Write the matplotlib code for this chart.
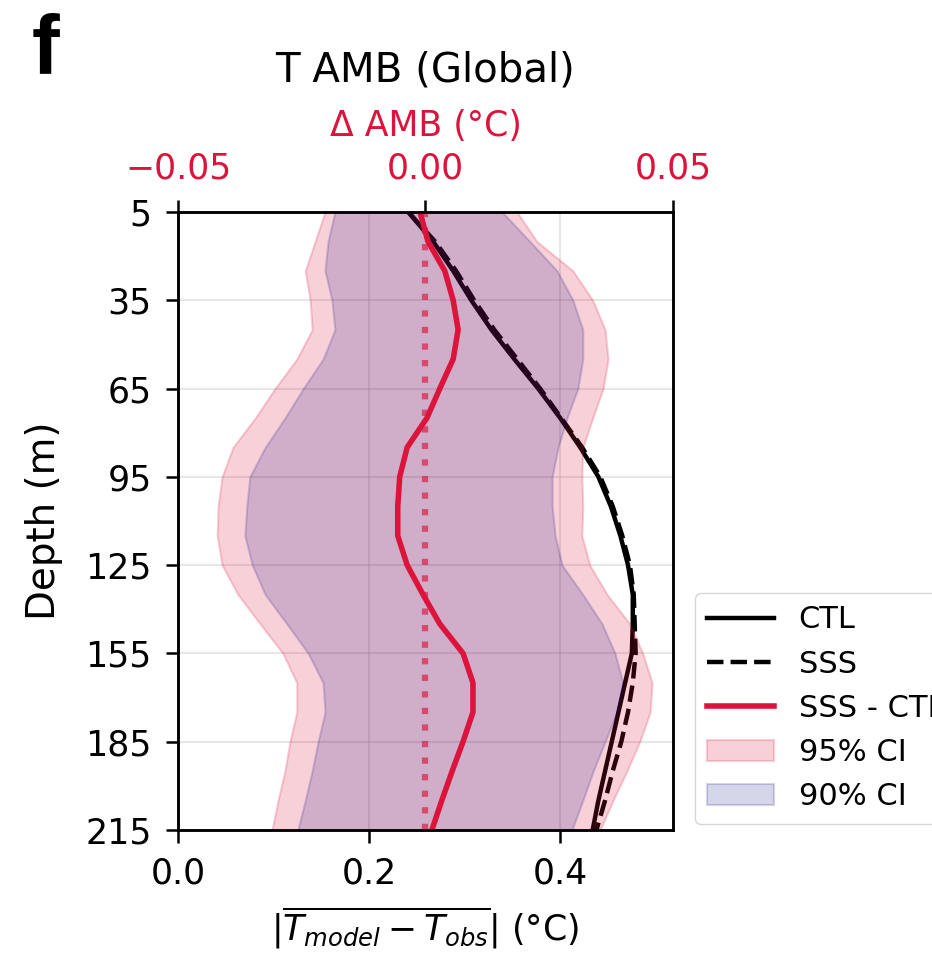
import matplotlib
matplotlib.use("Agg")
import matplotlib.pyplot as plt
from matplotlib.lines import Line2D
from matplotlib.patches import Patch

# ---- data ----
depth = [5, 15, 25, 35, 45, 55, 65, 75, 85, 95, 105, 115, 125, 135, 145, 155, 165, 175, 185, 195, 205, 215]

ctl = [0.241, 0.267, 0.288, 0.307, 0.328, 0.352, 0.377, 0.400, 0.421, 0.440, 0.453,
       0.463, 0.471, 0.476, 0.476, 0.475, 0.468, 0.461, 0.454, 0.447, 0.440, 0.434]
sss = [0.241, 0.269, 0.291, 0.310, 0.331, 0.355, 0.379, 0.401, 0.423, 0.442, 0.455,
       0.465, 0.473, 0.477, 0.478, 0.479, 0.476, 0.471, 0.464, 0.455, 0.447, 0.438]

diff = [-0.0011, 0.0005, 0.0039, 0.0056, 0.0066, 0.0056, 0.0029, 0.0003, -0.0037, -0.0052, -0.0056,
        -0.0056, -0.0037, -0.0005, 0.0029, 0.0076, 0.0096, 0.0096, 0.0076, 0.0054, 0.0033, 0.0013]

ci95_lo = [-0.0203, -0.0223, -0.0243, -0.0233, -0.0229, -0.0260, -0.0304, -0.0344, -0.0389, -0.0411, -0.0419,
           -0.0421, -0.0411, -0.0379, -0.0334, -0.0288, -0.0260, -0.0260, -0.0274, -0.0284, -0.0298, -0.0310]
ci95_hi = [0.0185, 0.0225, 0.0298, 0.0338, 0.0363, 0.0369, 0.0359, 0.0338, 0.0318, 0.0316, 0.0318,
           0.0316, 0.0332, 0.0367, 0.0413, 0.0439, 0.0458, 0.0454, 0.0433, 0.0407, 0.0379, 0.0353]
ci90_lo = [-0.0183, -0.0197, -0.0203, -0.0189, -0.0183, -0.0207, -0.0247, -0.0284, -0.0324, -0.0355, -0.0361,
           -0.0365, -0.0350, -0.0324, -0.0280, -0.0237, -0.0207, -0.0203, -0.0217, -0.0229, -0.0243, -0.0258]
ci90_hi = [0.0155, 0.0211, 0.0266, 0.0298, 0.0318, 0.0318, 0.0308, 0.0286, 0.0268, 0.0256, 0.0256,
           0.0262, 0.0276, 0.0318, 0.0357, 0.0383, 0.0399, 0.0387, 0.0363, 0.0339, 0.0318, 0.0296]

yticks = [5, 35, 65, 95, 125, 155, 185, 215]
xticks_bottom = [0.0, 0.2, 0.4]
xticks_top = [-0.05, 0.0, 0.05]

# ---- figure ----
fig = plt.figure(figsize=(9.32, 9.55), dpi=100)
ax = fig.add_axes([0.191, 0.131, 0.531, 0.647])

ax.plot(ctl, depth, color="black", lw=3.2, ls="-")
ax.plot(sss, depth, color="black", lw=3.2, ls="--")
ax.set_xlim(0, 0.518)
ax.set_ylim(215, 5)
ax.set_yticks(yticks)
ax.set_xticks(xticks_bottom)
ax.set_xticklabels(["0.0", "0.2", "0.4"])
ax.grid(True, color="#b0b0b0", alpha=0.3, lw=1.5)
ax.tick_params(labelsize=25, length=9, width=1.8, pad=10)
ax.set_ylabel("Depth (m)", fontsize=28, labelpad=16)
ax.set_xlabel(r"$|\overline{T_{model} - T_{obs}}|$ (°C)", fontsize=25, labelpad=10)
for s in ax.spines.values():
    s.set_linewidth(1.8)

ax2 = ax.twiny()
ax2.fill_betweenx(depth, ci95_lo, ci95_hi, color="crimson", alpha=0.2, lw=1.5)
ax2.fill_betweenx(depth, ci90_lo, ci90_hi, color="navy", alpha=0.16, lw=1.5)
ax2.axvline(0, color="crimson", ls=":", lw=4.5, alpha=0.65)
ax2.plot(diff, depth, color="crimson", lw=4.0)
ax2.set_xlim(-0.05, 0.05)
ax2.set_xticks(xticks_top)
ax2.set_xticklabels(["\u22120.05", "0.00", "0.05"])
ax2.tick_params(axis="x", labelsize=25, labelcolor="crimson", length=9, width=1.8, pad=10)
ax2.set_xlabel("\u0394 AMB (°C)", fontsize=25, color="crimson", labelpad=11)
ax2.set_title("T AMB (Global)", fontsize=29, pad=20)
for s in ax2.spines.values():
    s.set_linewidth(1.8)

handles = [
    Line2D([], [], color="black", lw=3.2, ls="-"),
    Line2D([], [], color="black", lw=3.2, ls="--"),
    Line2D([], [], color="crimson", lw=4.0),
    Patch(facecolor="crimson", alpha=0.2, edgecolor="crimson", lw=1.5),
    Patch(facecolor="navy", alpha=0.16, edgecolor="navy", lw=1.5),
]
labels = ["CTL", "SSS", "SSS - CTL", "95% CI", "90% CI"]
ax2.legend(handles, labels, loc="lower left", bbox_to_anchor=(1.044, 0.01),
           fontsize=22, handlelength=2.2, borderaxespad=0, frameon=True)

fig.text(0.034, 0.923, "f", fontsize=60, fontweight="bold",
         family=["Liberation Sans", "DejaVu Sans"], ha="left", va="baseline")

fig.savefig("out.png", dpi=100)
